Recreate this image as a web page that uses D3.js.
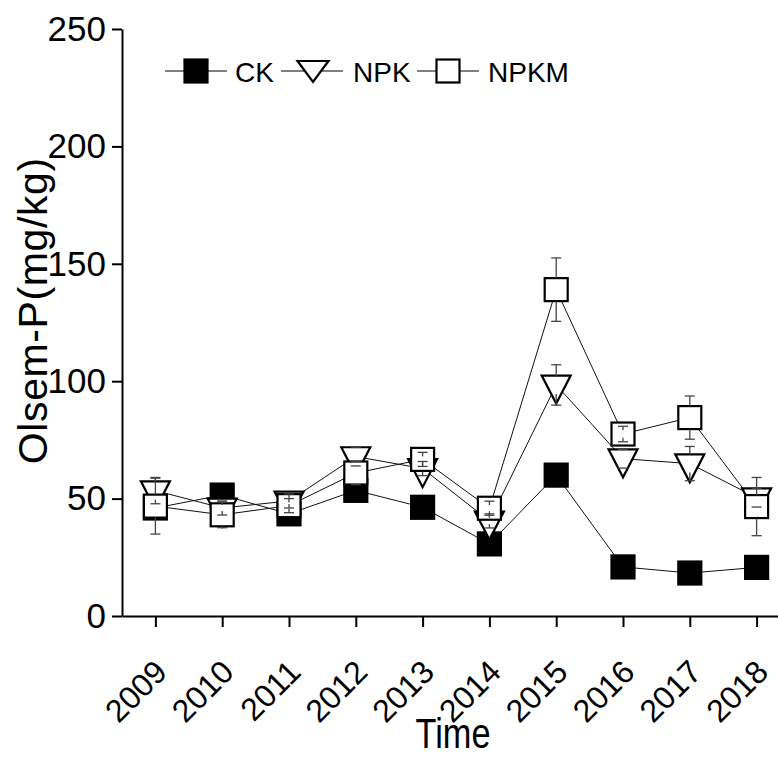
<!DOCTYPE html>
<html>
<head>
<meta charset="utf-8">
<script src="https://cdn.jsdelivr.net/npm/d3@7"></script>
<style>
  body { margin: 0; background: #fff; }
  svg text { font-family: "Liberation Sans", Arial, sans-serif; fill: #000; }
</style>
</head>
<body>
<svg id="chart" width="778" height="757"></svg>
<script>
// data
const years = [2009, 2010, 2011, 2012, 2013, 2014, 2015, 2016, 2017, 2018];
const ck = [46, 51.5, 43.5, 53.5, 46.3, 30.7, 60, 20.9, 18.3, 20.7];
const ckErr = [2, 2, 2, 2, 2, 2, 2, 2, 2, 2];
const npk = [53.4, 46, 49, 67.9, 62.8, 40.5, 98.4, 67, 64.9, 50.4];
const npkErr = [5.6, 3, 3, 4, 3, 3, 8.6, 4, 7.3, 4];
const npkm = [46.8, 43.1, 47, 60.9, 66.7, 45.9, 139, 77.5, 84.5, 46.6];
const npkmErr = [11.9, 5.5, 3, 5, 3, 3, 13.5, 3.3, 9.2, 12.4];
const yTicks = [0, 50, 100, 150, 200, 250];
const seriesNames = ['CK', 'NPK', 'NPKM'];

const svg = d3.select('#chart');

const x = d3.scaleLinear().domain([2008.5, 2018.5]).range([122, 790]);
const y = d3.scaleLinear().domain([0, 250]).range([616, 29]);

// axes
const yAxis = svg.append('g')
  .attr('transform', 'translate(122,0)')
  .call(d3.axisLeft(y).tickValues(yTicks).tickSize(10).tickPadding(6).tickSizeOuter(0));
yAxis.select('.domain').attr('stroke-width', 2);
yAxis.selectAll('.tick line').attr('stroke-width', 2);
yAxis.selectAll('.tick text').attr('font-size', 35).attr('font-family', '"Liberation Sans", Arial, sans-serif');

const xAxis = svg.append('g')
  .attr('transform', 'translate(0,616)')
  .call(d3.axisBottom(x).tickValues(years).tickSize(11).tickFormat(d3.format('d')).tickSizeOuter(0));
xAxis.select('.domain').attr('stroke-width', 2);
xAxis.selectAll('.tick line').attr('stroke-width', 2);
xAxis.selectAll('.tick text')
  .attr('font-size', 32)
  .attr('font-family', '"Liberation Sans", Arial, sans-serif')
  .attr('text-anchor', 'end')
  .attr('y', 0).attr('dy', 0)
  .attr('transform', 'translate(13,58) rotate(-45)');

svg.append('text')
  .attr('transform', 'translate(47,' + y(130) + ') rotate(-90)')
  .attr('text-anchor', 'middle')
  .attr('font-size', 41)
  .attr('letter-spacing', 0.6)
  .text('Olsem-P(mg/kg)');

svg.append('text')
  .attr('x', 453).attr('y', 748)
  .attr('text-anchor', 'middle')
  .attr('font-size', 42)
  .attr('textLength', 75)
  .attr('lengthAdjust', 'spacingAndGlyphs')
  .text('Time');

// symbols
const sq = 23;
function square(g, fill) {
  g.append('rect').attr('x', -sq / 2).attr('y', -sq / 2).attr('width', sq).attr('height', sq)
    .attr('fill', fill).attr('stroke', '#000').attr('stroke-width', 2.2);
}
function triangle(g, w, h) {
  const top = -h / 3;
  g.append('path')
    .attr('d', `M${-w / 2},${top}L${w / 2},${top}L0,${top + h}Z`)
    .attr('fill', '#fff').attr('stroke', '#000').attr('stroke-width', 2.2)
    .attr('stroke-linejoin', 'miter');
}

const series = [
  {vals: ck, err: ckErr, draw: g => square(g, '#000'), half: sq / 2, under: true},
  {vals: npk, err: npkErr, draw: g => triangle(g, 29, 28), half: 9},
  {vals: npkm, err: npkmErr, draw: g => square(g, '#fff'), half: sq / 2}
];

const line = d3.line().x((d, i) => x(years[i])).y(d => y(d));

const lines = svg.append('g');
series.forEach(s => {
  lines.append('path').datum(s.vals).attr('d', line)
    .attr('fill', 'none').attr('stroke', '#111').attr('stroke-width', 1);
});

const under = svg.append('g').attr('stroke', '#444').attr('stroke-width', 1.3);
const marks = svg.append('g');
const bars = svg.append('g').attr('stroke', '#444').attr('stroke-width', 1.3).attr('fill', 'none');

series.forEach(s => {
  s.vals.forEach((v, i) => {
    const g = marks.append('g').attr('transform', `translate(${x(years[i])},${y(v)})`);
    s.draw(g);
  });
});

// error bars, drawn from the marker edge out to the cap
series.forEach(s => {
  const layer = s.under ? under : bars;
  s.vals.forEach((v, i) => {
    const cx = x(years[i]);
    const cy = y(v);
    [y(v + s.err[i]), y(v - s.err[i])].forEach(capY => {
      const dir = capY < cy ? -1 : 1;
      const dist = Math.abs(capY - cy);
      const from = dist > s.half ? cy + dir * s.half : capY - dir * 4;
      layer.append('line').attr('x1', cx).attr('x2', cx).attr('y1', from).attr('y2', capY);
      layer.append('line').attr('x1', cx - 5).attr('x2', cx + 5).attr('y1', capY).attr('y2', capY);
    });
  });
});

// legend
const legend = svg.append('g');
const legendItems = [
  {x0: 165, x1: 227, cx: 196, tx: 235, draw: g => square(g, '#000')},
  {x0: 281, x1: 343, cx: 313, tx: 353, draw: g => triangle(g, 31, 21)},
  {x0: 417, x1: 479, cx: 448, tx: 488, draw: g => square(g, '#fff')}
];
legendItems.forEach((it, i) => {
  legend.append('line').attr('x1', it.x0).attr('x2', it.x1).attr('y1', 71).attr('y2', 71)
    .attr('stroke', '#000').attr('stroke-width', 1.2);
  const g = legend.append('g').attr('transform', `translate(${it.cx},${i === 1 ? 68 : 71})`);
  it.draw(g);
  legend.append('text').attr('x', it.tx).attr('y', 82).attr('font-size', 28).text(seriesNames[i]);
});
</script>
</body>
</html>
